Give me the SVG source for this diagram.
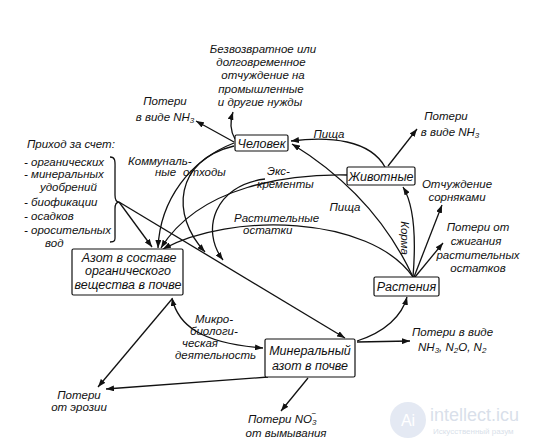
<svg xmlns="http://www.w3.org/2000/svg" width="541" height="446" viewBox="0 0 541 446">
<style>
text{font-family:"Liberation Sans",Arial,sans-serif;font-style:italic;font-size:11.5px;fill:#111}
.bt{font-size:12.5px;text-anchor:middle}
.m{text-anchor:middle}
.box{fill:#fff;stroke:#111;stroke-width:1.2}
.c path{fill:none;stroke:#111;stroke-width:1.3}
.a{marker-end:url(#ah)}
.wm{fill:#d9dfea;font-style:normal}
</style>
<defs>
<marker id="ah" markerUnits="userSpaceOnUse" markerWidth="8" markerHeight="6" refX="8" refY="3" orient="auto-start-reverse"><path d="M0,0 L8,3 L0,6 z" fill="#111"/></marker>
</defs>
<rect width="541" height="446" fill="#fff"/>
<g id="watermark">
<circle cx="408" cy="420" r="18" fill="#e4e9f3"/>
<text x="408" y="426" class="wm m" style="font-size:16px;fill:#fff">Ai</text>
<text x="430" y="421" class="wm" style="font-size:18px">intellect.icu</text>
<text x="433" y="434" class="wm" style="font-size:8px">Искусственный разум</text>
</g>
<g id="connectors" class="c">
<path class="a" d="M234,142 L196,121"/>
<path class="a" d="M235,139 Q228,127 233,112"/>
<path class="a" d="M385,167 C370,140 330,136 291,141"/>
<path class="a" d="M413,277 Q375,195 292,144"/>
<path class="a" d="M234,143 C190,160 160,200 158,248"/>
<path class="a" d="M234,146 C175,160 170,215 205,252"/>
<path class="a" d="M347,175 C290,174 200,185 161,248"/>
<path class="a" d="M265,179 C215,185 200,230 223,260"/>
<path class="a" d="M413,277 C370,215 230,212 163,249"/>
<path class="a" d="M119,202 L152,247"/>
<path class="a" d="M119,202 L345,338"/>
<path d="M110,157 C116,157 115,162 115,170 L115,195 C115,200 116,202 119,202 C116,202 115,204 115,209 L115,234 C115,240 116,242 110,242"/>
<path class="a" d="M413,277 C416,240 414,205 403,187"/>
<path class="a" d="M414,277 L442,205"/>
<path class="a" d="M415,277 L443,243"/>
<path class="a" d="M388,166 L417,129"/>
<path class="a" d="M357,341 C385,332 402,316 407,297"/>
<path class="a" d="M357,342 L410,341"/>
<path class="a" d="M308,378 L281,411"/>
<path class="a" d="M172,299 L98,387"/>
<path class="a" d="M268,377 L106,389"/>
<path class="a" d="M172,298 C178,325 200,343 263,348" marker-start="url(#ah)"/>
</g>
<g id="chelovek">
<rect class="box" x="235" y="135" width="53" height="16" rx="1.5"/>
<text class="bt" x="261.5" y="147.5">Человек</text>
</g>
<g id="zhivotnye">
<rect class="box" x="347" y="167" width="68" height="18" rx="1.5"/>
<text class="bt" x="381" y="180.5">Животные</text>
</g>
<g id="rasteniya">
<rect class="box" x="374" y="277" width="65" height="19" rx="1.5"/>
<text class="bt" x="406.5" y="291">Растения</text>
</g>
<g id="azot-org">
<rect class="box" x="72" y="249" width="111" height="46" rx="1.5"/>
<text class="bt" x="129" y="262">Азот в составе</text>
<text class="bt" x="128" y="275">органического</text>
<text class="bt" x="128" y="288.5">вещества в почве</text>
</g>
<g id="azot-min">
<rect class="box" x="265" y="339" width="90" height="38" rx="1.5"/>
<text class="bt" x="310" y="355">Минеральный</text>
<text class="bt" x="310" y="370">азот в почве</text>
</g>
<g id="labels">
<text class="m" x="263" y="53">Безвозвратное или</text>
<text class="m" x="261" y="66">долговременное</text>
<text class="m" x="263" y="79">отчуждение на</text>
<text class="m" x="261" y="93">промышленные</text>
<text class="m" x="260" y="106">и другие нужды</text>
<text class="m" x="165" y="105">Потери</text>
<text class="m" x="165" y="121">в виде NH<tspan font-size="8" dy="2">3</tspan></text>
<text class="m" x="446" y="120">Потери</text>
<text class="m" x="450" y="136">в виде NH<tspan font-size="8" dy="2">3</tspan></text>
<text class="m" x="329" y="138">Пища</text>
<text class="m" x="345" y="211">Пища</text>
<text transform="translate(401,238) rotate(90)" class="m" x="0" y="0">Корма</text>
<text x="27" y="148">Приход за счет:</text>
<text x="24" y="166">- органических</text>
<text x="24" y="178">- минеральных</text>
<text x="40" y="191">удобрений</text>
<text x="24" y="206">- биофикации</text>
<text x="24" y="220">- осадков</text>
<text x="24" y="234">- оросительных</text>
<text x="45" y="247">вод</text>
<text x="128" y="165">Коммуналь-</text>
<text y="176"><tspan x="155">ные</tspan><tspan x="183">отходы</tspan></text>
<text x="267" y="175">Экс-</text>
<text x="257" y="188">кременты</text>
<text x="234" y="222">Растительные</text>
<text x="243" y="234">остатки</text>
<text class="m" x="457" y="188">Отчуждение</text>
<text class="m" x="457" y="201">сорняками</text>
<text class="m" x="478" y="231">Потери от</text>
<text class="m" x="476" y="245">сжигания</text>
<text class="m" x="478" y="259">растительных</text>
<text class="m" x="478" y="272">остатков</text>
<text x="195" y="323">Микро-</text>
<text x="190" y="335">биологи-</text>
<text x="182" y="347">ческая</text>
<text x="175" y="359">деятельность</text>
<text x="412" y="336">Потери в виде</text>
<text x="418" y="351">NH<tspan font-size="8" dy="2">3</tspan><tspan dy="-2">, N</tspan><tspan font-size="8" dy="2">2</tspan><tspan dy="-2">O, N</tspan><tspan font-size="8" dy="2">2</tspan></text>
<text class="m" x="79" y="399">Потери</text>
<text class="m" x="79" y="411">от эрозии</text>
<text x="248" y="423">Потери NO<tspan font-size="8" dy="2">3</tspan><tspan font-size="8" dx="-5" dy="-9">−</tspan></text>
<text class="m" x="286" y="437">от вымывания</text>
</g>
</svg>
